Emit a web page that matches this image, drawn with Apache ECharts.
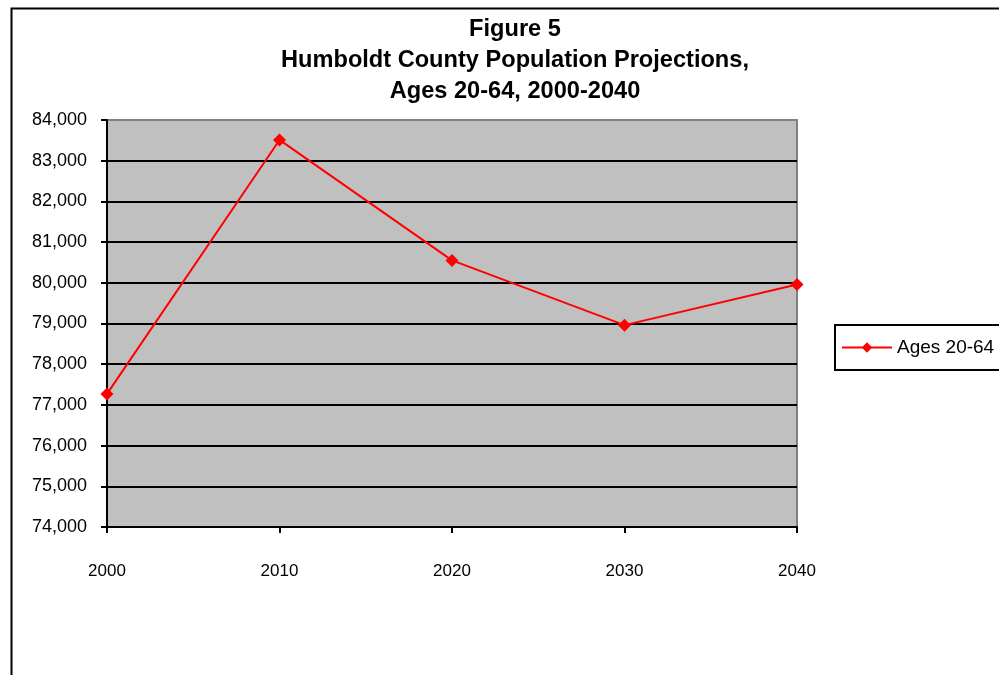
<!DOCTYPE html>
<html><head><meta charset="utf-8">
<script src="https://cdn.jsdelivr.net/npm/echarts@6/dist/echarts.min.js"></script>
<style>html,body{margin:0;padding:0;background:#fff}#c{width:999px;height:675px}</style>
</head><body><div id="c"></div>
<script>
const titleLines = ['Figure 5', 'Humboldt County Population Projections,', 'Ages 20-64, 2000-2040'];
const years = ['2000', '2010', '2020', '2030', '2040'];
const seriesName = 'Ages 20-64';
const values = [77270, 83510, 80550, 78960, 79960];
const yMin = 74000, yMax = 84000, yStep = 1000;

const chart = echarts.init(document.getElementById('c'), null, {renderer: 'canvas'});
const gridColors = [];
for (let v = yMin; v <= yMax; v += yStep) gridColors.push(v === yMax ? '#808080' : '#000000');

chart.setOption({
  animation: false,
  backgroundColor: '#ffffff',
  graphic: [{
    type: 'rect', left: 9, top: 6, shape: {width: 1100, height: 800},
    style: {fill: 'none', stroke: '#000', lineWidth: 2}, z: -1
  }],
  title: {
    text: titleLines.join('\n'), left: 515, top: 14, textAlign: 'center', padding: 0,
    textStyle: {fontFamily: 'Liberation Sans', fontWeight: 'bold', fontSize: 23.6, lineHeight: 31, color: '#000'}
  },
  legend: {
    left: 835, top: 325, orient: 'vertical',
    borderColor: '#000', borderWidth: 2, borderRadius: 0,
    padding: [13, 30, 13, 6],
    itemWidth: 50, itemHeight: 13, itemGap: 0,
    textStyle: {fontFamily: 'Liberation Sans', fontSize: 19, color: '#000'},
    data: [seriesName]
  },
  grid: {
    left: 107, top: 120, width: 690, height: 407,
    show: true, backgroundColor: '#c0c0c0', borderColor: '#808080', borderWidth: 2,
    containLabel: false
  },
  xAxis: {
    type: 'category', data: years, boundaryGap: false,
    axisLine: {lineStyle: {color: '#000', width: 2}},
    axisTick: {show: true, length: 6, inside: false, alignWithLabel: true, lineStyle: {color: '#000', width: 2}},
    axisLabel: {margin: 36, fontFamily: 'Liberation Sans', fontSize: 17, color: '#000'},
    splitLine: {show: false}
  },
  yAxis: {
    type: 'value', min: yMin, max: yMax, interval: yStep,
    axisLine: {show: true, lineStyle: {color: '#000', width: 2}},
    axisTick: {show: true, length: 6, lineStyle: {color: '#000', width: 2}},
    axisLabel: {margin: 20, fontFamily: 'Liberation Sans', fontSize: 18, color: '#000',
      formatter: v => v.toLocaleString('en-US')},
    splitLine: {show: true, lineStyle: {color: gridColors, width: 2}}
  },
  series: [{
    name: seriesName, type: 'line', data: values,
    symbol: 'diamond', symbolSize: 13,
    itemStyle: {color: '#ff0000'},
    lineStyle: {color: '#ff0000', width: 2}
  }]
});
</script></body></html>
